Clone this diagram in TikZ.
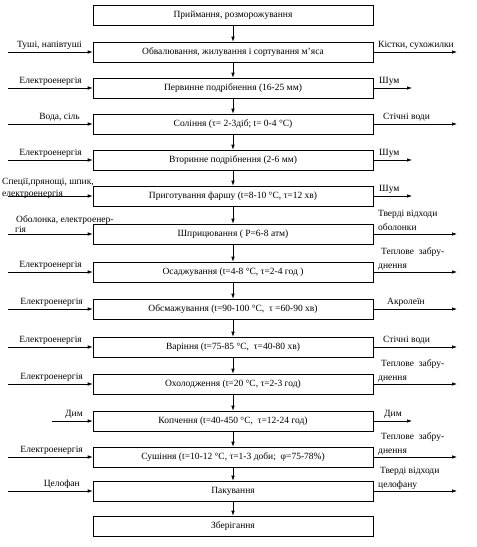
\documentclass[tikz,border=0pt]{standalone}
\usepackage{fontspec}
\setmainfont{Liberation Serif}
\usetikzlibrary{arrows.meta,positioning}

\begin{document}
\begin{tikzpicture}[
    x=1pt, y=-1pt,
    every node/.style={font=\fontsize{9.5}{11}\selectfont},
    stage/.style={draw,line width=0.6pt,minimum width=280pt,minimum height=20pt,inner sep=0pt},
    flow/.style={-{Latex[length=5pt,width=3.5pt]},line width=0.6pt},
    inlbl/.style={anchor=base east,inner sep=0pt},
    inlblw/.style={anchor=base west,inner sep=0pt},
    outlbl/.style={anchor=base west,inner sep=0pt}
]
\useasboundingbox (0,0) rectangle (477,547);

% Process stages
\node[stage] (recv)   at (233,15)  {Приймання, розморожування};
\node[stage] (debone) at (233,52)  {Обвалювання, жилування і сортування м'яса};
\node[stage] (grinda) at (233,88)  {Первинне подрібнення (16-25 мм)};
\node[stage] (salt)   at (233,124) {Соління (τ= 2-3діб; t= 0-4 °С)};
\node[stage] (grindb) at (233,160) {Вторинне подрібнення (2-6 мм)};
\node[stage] (mince)  at (233,196) {Приготування фаршу (t=8-10 °С, τ=12 хв)};
\node[stage] (stuff)  at (233,234) {Шприцювання ( Р=6-8 атм)};
\node[stage] (settle) at (233,272) {Осаджування (t=4-8 °С, τ=2-4 год )};
\node[stage] (roast)  at (233,309) {Обсмажування (t=90-100 °С,\ \ τ =60-90 хв)};
\node[stage] (cook)   at (233,347) {Варіння (t=75-85 °С,\ \ τ=40-80 хв)};
\node[stage] (cool)   at (233,384) {Охолодження (t=20 °С, τ=2-3 год)};
\node[stage] (smoke)  at (233,421) {Копчення (t=40-450 °С,\ \ τ=12-24 год)};
\node[stage] (dry)    at (233,457) {Сушіння (t=10-12 °С, τ=1-3 доби;\ \ φ=75-78\%)};
\node[stage] (pack)   at (233,491) {Пакування};
\node[stage] (store)  at (233,526) {Зберігання};

\draw[flow] (recv) -- (debone);
\draw[flow] (debone) -- (grinda);
\draw[flow] (grinda) -- (salt);
\draw[flow] (salt) -- (grindb);
\draw[flow] (grindb) -- (mince);
\draw[flow] (mince) -- (stuff);
\draw[flow] (stuff) -- (settle);
\draw[flow] (settle) -- (roast);
\draw[flow] (roast) -- (cook);
\draw[flow] (cook) -- (cool);
\draw[flow] (cool) -- (smoke);
\draw[flow] (smoke) -- (dry);
\draw[flow] (dry) -- (pack);
\draw[flow] (pack) -- (store);

% Inputs
\coordinate (in-debone) at (8,52);
\coordinate (in-grinda) at (8,88);
\coordinate (in-salt)   at (8,124);
\coordinate (in-grindb) at (8,160);
\coordinate (in-mince)  at (8,196);
\coordinate (in-stuff)  at (8,234);
\coordinate (in-settle) at (8,272);
\coordinate (in-roast)  at (8,309);
\coordinate (in-cook)   at (8,347);
\coordinate (in-cool)   at (8,384);
\coordinate (in-smoke)  at (52,421);
\coordinate (in-dry)    at (8,457);
\coordinate (in-pack)   at (8,491);
\draw[flow] (in-debone) -- (debone);
\draw[flow] (in-grinda) -- (grinda);
\draw[flow] (in-salt) -- (salt);
\draw[flow] (in-grindb) -- (grindb);
\draw[flow] (in-mince) -- (mince);
\draw[flow] (in-stuff) -- (stuff);
\draw[flow] (in-settle) -- (settle);
\draw[flow] (in-roast) -- (roast);
\draw[flow] (in-cook) -- (cook);
\draw[flow] (in-cool) -- (cool);
\draw[flow] (in-smoke) -- (smoke);
\draw[flow] (in-dry) -- (dry);
\draw[flow] (in-pack) -- (pack);

\node[inlbl] (l-debone) at (82,47)  {Туші, напівтуші};
\node[inlbl] (l-grinda) at (82,83)  {Електроенергія};
\node[inlbl] (l-salt)   at (80,119) {Вода, сіль};
\node[inlbl] (l-grindb) at (82,155) {Електроенергія};
\node[inlblw] (l-mince-a) at (2,184) {Спеції,прянощі, шпик,};
\node[inlblw] (l-mince-b) at (2,196) {електроенергія};
\node[inlblw] (l-stuff-a) at (16,222) {Оболонка, електроенер-};
\node[inlblw] (l-stuff-b) at (15,232) {гія};
\node[inlbl] (l-settle) at (82,267) {Електроенергія};
\node[inlbl] (l-roast)  at (83,304) {Електроенергія};
\node[inlbl] (l-cook)   at (82,342) {Електроенергія};
\node[inlbl] (l-cool)   at (83,379) {Електроенергія};
\node[inlbl] (l-smoke)  at (83,416) {Дим};
\node[inlbl] (l-dry)    at (83,452) {Електроенергія};
\node[inlbl] (l-pack)   at (80,486) {Целофан};

% Outputs
\coordinate (out-debone) at (457,52);
\coordinate (out-grinda) at (412,88);
\coordinate (out-salt)   at (457,124);
\coordinate (out-grindb) at (412,160);
\coordinate (out-mince)  at (412,196);
\coordinate (out-stuff)  at (457,234);
\coordinate (out-settle) at (457,272);
\coordinate (out-roast)  at (457,309);
\coordinate (out-cook)   at (457,347);
\coordinate (out-cool)   at (457,384);
\coordinate (out-smoke)  at (412,421);
\coordinate (out-dry)    at (457,457);
\coordinate (out-pack)   at (457,491);
\draw[flow] (debone) -- (out-debone);
\draw[flow] (grinda) -- (out-grinda);
\draw[flow] (salt) -- (out-salt);
\draw[flow] (grindb) -- (out-grindb);
\draw[flow] (mince) -- (out-mince);
\draw[flow] (stuff) -- (out-stuff);
\draw[flow] (settle) -- (out-settle);
\draw[flow] (roast) -- (out-roast);
\draw[flow] (cook) -- (out-cook);
\draw[flow] (cool) -- (out-cool);
\draw[flow] (smoke) -- (out-smoke);
\draw[flow] (dry) -- (out-dry);
\draw[flow] (pack) -- (out-pack);

\node[outlbl] (r-debone)  at (378,47)  {Кістки, сухожилки};
\node[outlbl] (r-grinda)  at (379,83)  {Шум};
\node[outlbl] (r-salt)    at (383,119) {Стічні води};
\node[outlbl] (r-grindb)  at (379,155) {Шум};
\node[outlbl] (r-mince)   at (379,191) {Шум};
\node[outlbl] (r-stuff-a) at (378,216) {Тверді відходи};
\node[outlbl] (r-stuff-b) at (378,230) {оболонки};
\node[outlbl] (r-settle-a) at (381,254) {Теплове\ \ забру-};
\node[outlbl] (r-settle-b) at (378,268) {днення};
\node[outlbl] (r-roast)   at (387,304) {Акролеїн};
\node[outlbl] (r-cook)    at (383,342) {Стічні води};
\node[outlbl] (r-cool-a)  at (381,366) {Теплове\ \ забру-};
\node[outlbl] (r-cool-b)  at (378,380) {днення};
\node[outlbl] (r-smoke)   at (384,416) {Дим};
\node[outlbl] (r-dry-a)   at (381,439) {Теплове\ \ забру-};
\node[outlbl] (r-dry-b)   at (378,453) {днення};
\node[outlbl] (r-pack-a)  at (380,473) {Тверді відходи};
\node[outlbl] (r-pack-b)  at (378,487) {целофану};
\end{tikzpicture}
\end{document}
